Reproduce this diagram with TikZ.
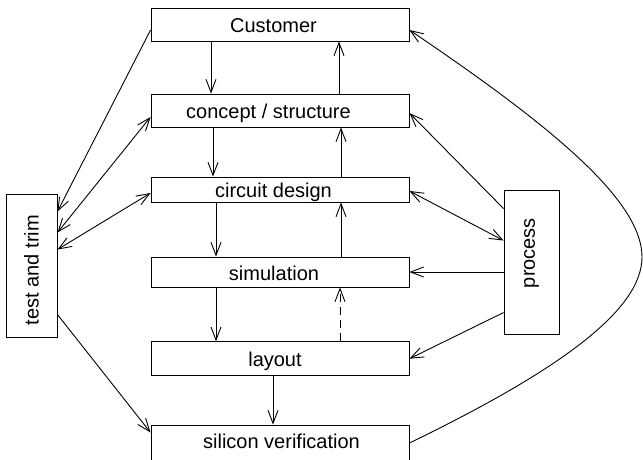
\documentclass[tikz,border=0pt]{standalone}
\usepackage{fontspec}
\setmainfont{Liberation Sans}
\usetikzlibrary{arrows.meta}
\begin{document}
\begin{tikzpicture}[x=1pt,y=-1pt,
  line width=0.9pt,
  >={Straight Barb[length=13pt,width=10pt]},
  box/.style={draw, rectangle, inner sep=0pt, minimum width=258pt,
    font=\fontsize{20}{24}\selectfont, text height=16pt, text depth=0pt},
  vbox/.style={draw, rectangle, inner sep=0pt,
    font=\fontsize{20}{24}\selectfont},
  conn/.style={->},
  dconn/.style={<->}
]
\useasboundingbox (0,0) rectangle (643,459);
\node[box, minimum height=33pt] (cust) at (280,24.5) {Customer\kern13pt};
\node[box, minimum height=33pt] (conc) at (280,110.5) {concept / structure\kern23pt};
\node[box, minimum height=25pt] (circ) at (280,189.5) {circuit design\kern13pt};
\node[box, minimum height=30pt] (sim) at (280,272) {simulation\kern12pt};
\node[box, minimum height=34pt] (lay) at (280,358.7) {layout\kern10pt};
\node[box, minimum height=36pt, text depth=5pt] (sil) at (280,443) {\kern3pt silicon verification};
\node[vbox, minimum width=51pt, minimum height=143pt] (tt) at (31.5,265.5) {\rotatebox{90}{test and trim\kern9pt}};
\node[vbox, minimum width=55pt, minimum height=144pt] (proc) at (531.5,262) {\rotatebox{90}{\kern18pt process}};

% main flow
\draw[conn] ([xshift=-69pt]cust.south) -- ([xshift=-69pt]conc.north);
\draw[conn] ([xshift=-67pt]conc.south) -- ([xshift=-67pt]circ.north);
\draw[conn] ([xshift=-64pt]circ.south) -- ([xshift=-64pt]sim.north);
\draw[conn] ([xshift=-64pt]sim.south) -- ([xshift=-64pt]lay.north);
\draw[conn] ([xshift=-7pt]lay.south) -- ([xshift=-7pt]sil.north);
% feedback
\draw[conn] ([xshift=59pt]conc.north) -- ([xshift=59pt]cust.south);
\draw[conn] ([xshift=61pt]circ.north) -- ([xshift=61pt]conc.south);
\draw[conn] ([xshift=61pt]sim.north) -- ([xshift=61pt]circ.south);
\draw[conn, dash pattern=on 8pt off 5pt] ([xshift=60pt]lay.north) -- ([xshift=60pt]sim.south);
% test and trim
\draw[conn] ([yshift=-5.5pt]cust.west) -- ([yshift=-18pt]tt.north east);
\draw[dconn] ([yshift=-39pt]tt.north east) -- ([yshift=-6.5pt]conc.west);
\draw[dconn] ([yshift=-56pt]tt.north east) -- ([yshift=-3.5pt]circ.west);
\draw[conn] ([yshift=-121pt]tt.north east) -- ([yshift=-8pt]sil.north west);
% process
\draw[conn] ([yshift=-19pt]proc.north west) -- ([yshift=-2.5pt]conc.east);
\draw[dconn] ([yshift=-1.5pt]circ.east) -- ([yshift=-51pt]proc.north west);
\draw[conn] ([yshift=-10pt]proc.west) -- (sim.east);
\draw[conn] ([yshift=-123pt]proc.north west) -- (lay.east);
% silicon verification back to customer
\draw[conn] (sil.east) .. controls (560,370) and (642,310) .. (642,257)
  .. controls (642,200) and (550,125) .. ([yshift=-5.5pt]cust.east);
\end{tikzpicture}
\end{document}
